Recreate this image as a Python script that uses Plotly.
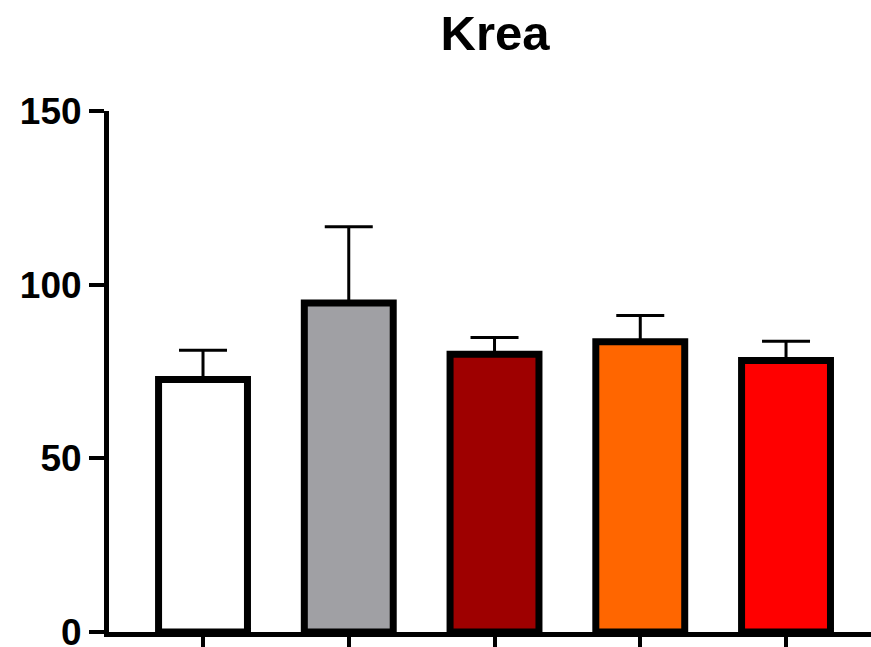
import plotly.graph_objects as go

categories = ["G1", "G2", "G3", "G4", "G5"]
means = [72.7, 94.7, 80.0, 83.6, 78.2]
errors = [8.4, 22.0, 4.8, 7.5, 5.5]
colors = ["#FFFFFF", "#A0A0A4", "#9E0000", "#FF6600", "#FF0000"]
yticks = [0, 50, 100, 150]

fig = go.Figure()
fig.add_trace(go.Bar(
    x=list(range(len(categories))),
    y=means,
    width=0.61,
    marker=dict(color=colors, line=dict(color="black", width=7)),
    error_y=dict(type="data", symmetric=False, array=errors,
                 arrayminus=[0] * len(errors), color="black",
                 thickness=3, width=24),
))

fig.update_layout(
    width=871, height=647,
    margin=dict(l=109, r=0, t=111, b=15),
    paper_bgcolor="white", plot_bgcolor="white",
    showlegend=False,
    title=dict(text="Krea", x=495 / 871, xanchor="center", xref="container",
               y=1 - 33 / 647, yanchor="middle", yref="container",
               font=dict(family="Liberation Sans, Arial", size=49, color="black", weight="bold")),
    font=dict(family="Liberation Sans, Arial", color="black"),
)
fig.update_xaxes(range=[-0.645, 4.583], showgrid=False, zeroline=False, automargin=False,
                 showline=True, linecolor="black", linewidth=5,
                 ticks="outside", ticklen=15, tickwidth=4, tickcolor="black",
                 tickvals=list(range(len(categories))), showticklabels=False)
fig.update_yaxes(range=[0, 150], showgrid=False, zeroline=False, automargin=False,
                 showline=True, linecolor="black", linewidth=5,
                 ticks="outside", ticklen=15, tickwidth=4, tickcolor="black",
                 ticklabeloverflow="allow",
                 tickvals=yticks, ticktext=[str(v) for v in yticks],
                 tickfont=dict(size=37, weight="bold", family="Liberation Sans, Arial", color="black"))

fig.write_html("out.html")
